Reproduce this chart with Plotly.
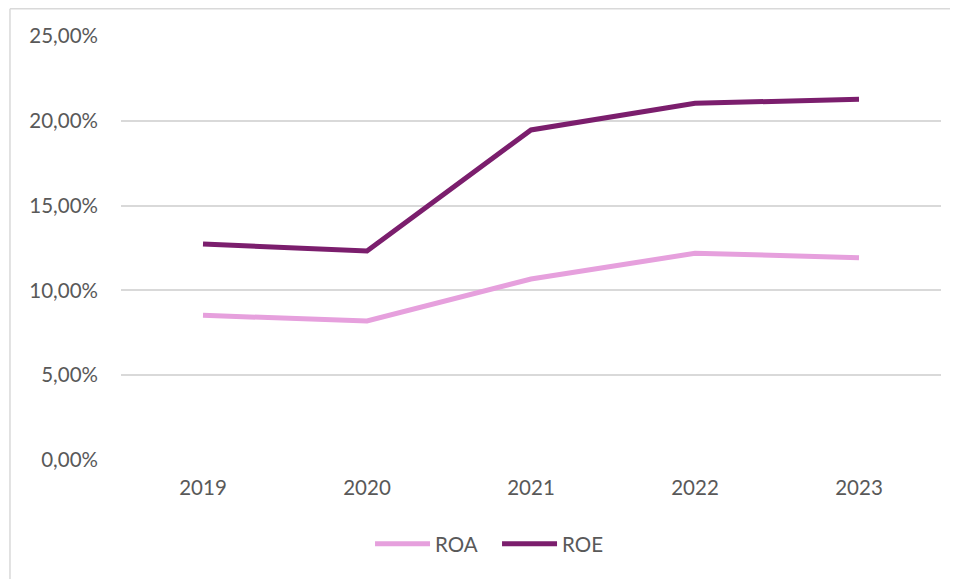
import plotly.graph_objects as go

years = ["2019", "2020", "2021", "2022", "2023"]
roa = [8.53, 8.20, 10.67, 12.19, 11.93]
roe = [12.74, 12.32, 19.46, 21.03, 21.27]
y_ticks = [0, 5, 10, 15, 20, 25]
y_tick_labels = ["0,00%", "5,00%", "10,00%", "15,00%", "20,00%", "25,00%"]

font_family = "Lato, Carlito, Calibri, sans-serif"
text_color = "#595959"

fig = go.Figure()
fig.add_trace(go.Scatter(x=years, y=roa, name="ROA", mode="lines",
                         line=dict(color="#E6A0DD", width=5)))
fig.add_trace(go.Scatter(x=years, y=roe, name="ROE", mode="lines",
                         line=dict(color="#7B1E6D", width=5)))

# page body has an 8px margin, so the figure is sized to fit inside the window
fig.update_layout(
    width=950, height=571,
    margin=dict(l=113, r=17, t=28, b=119),
    paper_bgcolor="white", plot_bgcolor="white",
    font=dict(family=font_family, size=20.5, color=text_color),
    showlegend=True,
    legend=dict(orientation="h", x=0.3037, xanchor="left", y=-0.198, yanchor="middle",
                itemwidth=55, entrywidth=57, entrywidthmode="pixels",
                font=dict(size=20.5, color=text_color)),
    xaxis=dict(type="category", range=[-0.5, 4.5], showgrid=False, zeroline=False,
               showline=False, ticks="", ticklabelstandoff=13),
    yaxis=dict(range=[0, 25], tickvals=y_ticks, ticktext=y_tick_labels,
               showgrid=True, gridcolor="#D9D9D9", gridwidth=1.5, zeroline=False,
               showline=False, ticks="", ticklabelstandoff=22),
    shapes=[
        dict(type="line", xref="paper", yref="paper", x0=-0.1354, x1=-0.1354,
             y0=1.064, y1=-0.3, line=dict(color="#D9D9D9", width=1.5)),
        dict(type="line", xref="paper", yref="paper", x0=-0.1354, x1=1.1,
             y0=1.064, y1=1.064, line=dict(color="#D9D9D9", width=1.5)),
    ],
)

fig.write_html("out.html")
